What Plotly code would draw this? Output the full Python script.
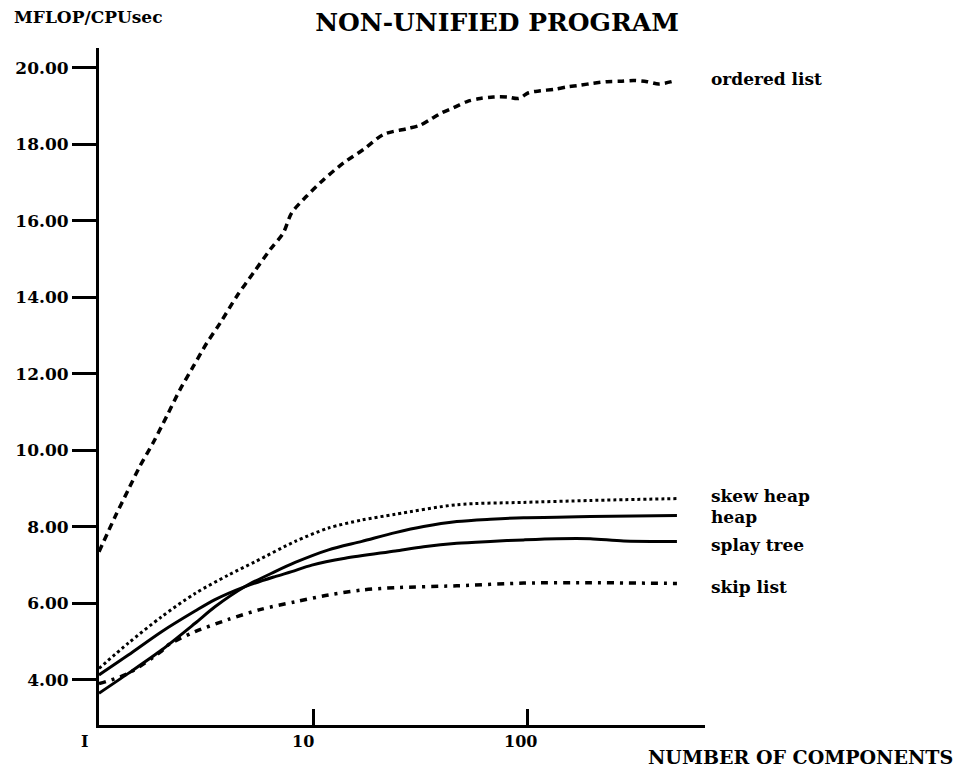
import math
import plotly.graph_objects as go

# ---------------- data ----------------
ordered_x = [1, 1.19, 1.37, 1.55, 1.79, 2.07, 2.39, 2.76, 3.19, 3.68, 4.4, 5.26, 6.3, 7.26, 7.94,
             9.34, 11.2, 13.9, 17.2, 21.3, 27.4, 31.6, 35.9, 40, 45.3, 52.3, 60.3, 69.4, 80.4,
             91.2, 101.4, 115, 133, 153, 178, 204, 236, 272, 314, 363, 411, 480]
ordered_y = [7.35, 8.27, 8.97, 9.58, 10.2, 10.89, 11.59, 12.2, 12.81, 13.33, 14.03, 14.64, 15.25,
             15.69, 16.21, 16.65, 17.08, 17.52, 17.87, 18.26, 18.41, 18.5, 18.68, 18.83, 18.96,
             19.12, 19.2, 19.24, 19.24, 19.2, 19.35, 19.4, 19.44, 19.5, 19.55, 19.6, 19.64, 19.65,
             19.67, 19.64, 19.58, 19.65]

skew_x = [1, 1.37, 1.96, 2.81, 4.02, 5.36, 8.24, 11.8, 16.9, 24.2, 46.9, 96.2, 197, 500]
skew_y = [4.30, 4.96, 5.65, 6.26, 6.74, 7.09, 7.62, 7.97, 8.18, 8.33, 8.58, 8.64, 8.69, 8.74]

heap_x = [1, 1.37, 1.96, 2.81, 3.48, 4.81, 6.64, 8.24, 11.8, 16.9, 24.2, 32.8, 46.9, 67.2,
          96.2, 137.6, 197, 500]
heap_y = [3.65, 4.17, 4.78, 5.48, 5.91, 6.44, 6.83, 7.07, 7.4, 7.62, 7.85, 8.01, 8.14, 8.2,
          8.24, 8.25, 8.27, 8.3]

splay_x = [1, 1.37, 1.96, 2.81, 3.48, 4.81, 6.64, 7.94, 9.86, 14.1, 24.2, 32.8, 46.9, 67.2,
           96.2, 137.6, 197, 282, 500]
splay_y = [4.13, 4.65, 5.26, 5.80, 6.10, 6.44, 6.70, 6.83, 7.0, 7.18, 7.37, 7.48, 7.57, 7.62,
           7.66, 7.69, 7.69, 7.63, 7.62]

skip_x = [1, 1.37, 1.96, 2.1, 2.81, 4.02, 5.76, 8.24, 11.8, 16.9, 24.2, 46.9, 96.2, 197, 500]
skip_y = [3.9, 4.17, 4.75, 4.91, 5.26, 5.58, 5.85, 6.04, 6.22, 6.35, 6.41, 6.46, 6.53, 6.54, 6.52]

series_names = ["ordered list", "skew heap", "heap", "splay tree", "skip list"]

y_tick_vals = [4, 6, 8, 10, 12, 14, 16, 18, 20]
y_tick_text = ["4.00", "6.00", "8.00", "10.00", "12.00", "14.00", "16.00", "18.00", "20.00"]
x_tick_vals = [1, 10, 100]
x_tick_text = ["I", "10", "100"]

title_text = "NON-UNIFIED PROGRAM"
y_title_text = "MFLOP/CPUsec"
x_title_text = "NUMBER OF COMPONENTS"

# ---------------- figure ----------------
FONT = "DejaVu Serif"
series = [
    (ordered_x, ordered_y, dict(color="black", width=3.5, dash="7px,5px"), 2),
    (skew_x, skew_y, dict(color="black", width=3, dash="3px,3px"), 3),
    (heap_x, heap_y, dict(color="black", width=3), -2),
    (splay_x, splay_y, dict(color="black", width=3), -4),
    (skip_x, skip_y, dict(color="black", width=3.5, dash="7px,6px,3px,6px"), -4),
]

fig = go.Figure()
annotations = []
for name, (xs, ys, line, yshift) in zip(series_names, series):
    fig.add_trace(go.Scatter(x=xs, y=ys, mode="lines", name=name, line=line,
                             line_shape="spline", line_smoothing=0.8, showlegend=False,
                             hoverinfo="skip"))
    annotations.append(dict(text=name, xref="paper", x=1, xanchor="left", xshift=4,
                            yref="y", y=ys[-1], yanchor="middle", yshift=yshift,
                            showarrow=False,
                            font=dict(family=FONT, size=17, color="black", weight="bold")))

x_shifts = [-15, -10, -7]
for v, t, s in zip(x_tick_vals, x_tick_text, x_shifts):
    annotations.append(dict(text=t, xref="x", x=math.log10(v), xshift=s,
                            yref="paper", y=0, yshift=-16, yanchor="middle",
                            showarrow=False,
                            font=dict(family=FONT, size=16, color="black", weight="bold")))

annotations.append(dict(text=y_title_text, xref="paper", x=0, xshift=-87, xanchor="left",
                        yref="paper", y=1, yshift=31, yanchor="middle", showarrow=False,
                        font=dict(family=FONT, size=17, color="black", weight="bold")))
annotations.append(dict(text=x_title_text, xref="paper", x=1, xshift=250, xanchor="right",
                        yref="paper", y=0, yshift=-32, yanchor="middle", showarrow=False,
                        font=dict(family=FONT, size=19, color="black", weight="bold")))

fig.update_layout(
    width=961, height=773,
    margin=dict(l=99, r=256, t=48, b=48),
    paper_bgcolor="white", plot_bgcolor="white",
    title=dict(text=title_text, x=497 / 961, xanchor="center", xref="container",
               y=1 - 22 / 773, yanchor="middle",
               font=dict(family=FONT, size=25, color="black", weight="bold")),
    annotations=annotations,
)
fig.update_xaxes(type="log", range=[0, 2.83], showline=True, linewidth=3, linecolor="black",
                 ticks="inside", tickvals=x_tick_vals[1:], ticklen=16, tickwidth=3,
                 tickcolor="black", showticklabels=False, showgrid=False, zeroline=False)
fig.update_yaxes(range=[2.82, 20.52], showline=True, linewidth=3, linecolor="black",
                 ticks="outside", tickvals=y_tick_vals, ticktext=y_tick_text, ticklen=24,
                 tickwidth=3, tickcolor="black", showgrid=False, zeroline=False,
                 tickfont=dict(family=FONT, size=17, color="black", weight="bold"))

fig.write_html("out.html", config={"displayModeBar": False},
               post_script="document.body.style.margin='0';document.body.style.overflow='hidden';")
